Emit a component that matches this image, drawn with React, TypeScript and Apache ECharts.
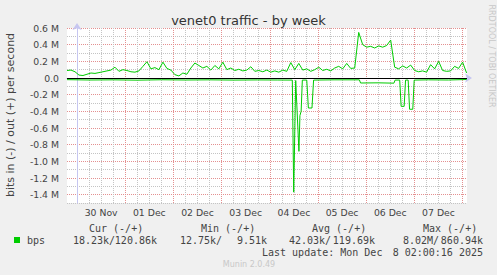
import React, { useEffect, useRef } from "react";
import * as echarts from "echarts";

// ---- data ----
const dayLabels = ["30 Nov", "01 Dec", "02 Dec", "03 Dec", "04 Dec", "05 Dec", "06 Dec", "07 Dec"];
// hours relative to 30 Nov 00:00
const X_MIN = -5;
const X_MAX = 194.2;
const outStart = -5;
const outEnd = 194;
// out (+) bits per second, in k
const outValuesK = [
  90, 95, 75, 35, 30, 45, 60, 55, 65, 75,
  85, 95, 130, 80, 100, 90, 75, 70, 85, 140,
  195, 110, 125, 100, 190, 115, 95, 40, 25, 60,
  45, 120, 180, 150, 120, 140, 95, 150, 110, 190,
  100, 120, 90, 105, 85, 95, 135, 80, 90, 75,
  95, 70, 85, 70, 95, 80, 185, 100, 175, 95,
  110, 80, 100, 130, 90, 105, 85, 120, 140, 110,
  175, 115, 120, 547, 400, 370, 380, 360, 385, 370,
  390, 455, 130, 110, 145, 120, 155, 90, 75, 85,
  70, 160, 110, 200, 90, 80, 85, 140, 115, 190,
  60,
];
// in (-) bits per second: times (h) and values in k
const inTimes = [
  -5, 6, 18, 30, 42, 54, 66, 78, 90, 100,
  107.2, 107.9, 108.9, 110.5, 111.0, 111.6, 112.2,
  114.4, 115.2, 117.0, 117.8,
  128, 140.6, 141.2, 150, 157.8, 158.4,
  160.7, 161.4, 162.9, 163.6,
  164.9, 165.6, 167.2, 167.9,
  175, 185, 194,
];
const inValuesK = [
  20, 24, 22, 26, 21, 24, 22, 25, 23, 24,
  25, 1370, 30, 880, 450, 400, 25,
  25, 360, 360, 25,
  22, 22, 60, 58, 62, 25,
  25, 340, 340, 25,
  25, 375, 375, 25,
  22, 24, 18,
];

const legendHeaders = ["Cur (-/+)", "Min (-/+)", "Avg (-/+)", "Max (-/+)"];
const legendIn = ["18.23k/", "12.75k/", "42.03k/", "8.02M/"];
const legendOut = ["120.86k", "9.51k", "119.69k", "860.94k"];

const GREEN = "#00cc00";
const RED_GRID = "#e49090";
const GRAY_GRID = "#c4c4c4";
const AXIS = "#c6c6f0";
const SANS = "DejaVu Sans";
const MONO = "DejaVu Sans Mono";

export default function App() {
  const ref = useRef<HTMLDivElement>(null);
  useEffect(() => {
    const chart = echarts.init(ref.current!, null, { renderer: "svg" });

    const n = outValuesK.length;
    const outData = outValuesK.map((v, i) => [outStart + (i * (outEnd - outStart)) / (n - 1), v * 1000]);
    const inData = inTimes.map((t, i) => [t, -inValuesK[i] * 1000]);

    const xColors = Array.from({ length: 24 }, (_, i) => {
      const h = X_MIN + i;
      const m = ((h % 24) + 24) % 24;
      if (m === 0) return RED_GRID;
      if (m % 6 === 0) return GRAY_GRID;
      return "rgba(0,0,0,0)";
    });

    const legendX = [89, 201, 312, 423];
    const inX = [73, 180, 289, 403];
    const outRight = [157, 267, 375, 483];

    const graphics: any[] = [
      {
        type: "text",
        x: 248.5,
        y: 20,
        style: { text: "venet0 traffic - by week", fontFamily: SANS, fontSize: 13, fill: "#333", textAlign: "center", textVerticalAlign: "middle" },
      },
      {
        type: "text",
        x: 10.5,
        y: 115,
        rotation: Math.PI / 2,
        style: { text: "bits in (-) / out (+) per second", fontFamily: SANS, fontSize: 11, fill: "#444", textAlign: "center", textVerticalAlign: "middle" },
      },
      {
        type: "text",
        x: 491,
        y: 56,
        rotation: -Math.PI / 2,
        style: { text: "RRDTOOL / TOBI OETIKER", fontFamily: SANS, fontSize: 8, fill: "#c8c8c8", textAlign: "center", textVerticalAlign: "middle" },
      },
      { type: "rect", shape: { x: 14, y: 237, width: 6, height: 6 }, style: { fill: GREEN } },
      {
        type: "text",
        x: 27,
        y: 240,
        style: { text: "bps", fontFamily: MONO, fontSize: 10, fill: "#444", textVerticalAlign: "middle" },
      },
      {
        type: "text",
        x: 262,
        y: 252,
        style: { text: "Last update: Mon Dec", fontFamily: MONO, fontSize: 10, fill: "#444", textVerticalAlign: "middle" },
      },
      {
        type: "text",
        x: 483,
        y: 252,
        style: { text: "8 02:00:16 2025", fontFamily: MONO, fontSize: 10, fill: "#444", textAlign: "right", textVerticalAlign: "middle" },
      },
      {
        type: "text",
        x: 249,
        y: 264,
        style: { text: "Munin 2.0.49", fontFamily: SANS, fontSize: 8, fill: "#c8c8c8", textAlign: "center", textVerticalAlign: "middle" },
      },
    ];
    legendHeaders.forEach((h, i) => {
      graphics.push({
        type: "text",
        x: legendX[i],
        y: 228,
        style: { text: h, fontFamily: MONO, fontSize: 10, fill: "#444", textVerticalAlign: "middle" },
      });
      graphics.push({
        type: "text",
        x: inX[i],
        y: 240,
        style: { text: legendIn[i], fontFamily: MONO, fontSize: 10, fill: "#444", textVerticalAlign: "middle" },
      });
      graphics.push({
        type: "text",
        x: outRight[i],
        y: 240,
        style: { text: legendOut[i], fontFamily: MONO, fontSize: 10, fill: "#444", textAlign: "right", textVerticalAlign: "middle" },
      });
    });

    const option: any = {
      animation: false,
      backgroundColor: "#f0f0f0",
      grid: { left: 67, top: 28, width: 400, height: 175, show: true, backgroundColor: "#ffffff", borderWidth: 0 },
      xAxis: {
        type: "value",
        min: X_MIN,
        max: X_MAX,
        interval: 1,
        axisLine: {
          show: true,
          lineStyle: { color: AXIS, width: 1 },
          symbol: ["none", "arrow"],
          symbolSize: [7, 7],
          symbolOffset: [0, 5],
        },
        axisTick: { show: false },
        axisLabel: {
          show: true,
          interval: 0,
          margin: 5,
          fontFamily: SANS,
          fontSize: 9.3,
          color: "#444",
          showMinLabel: true,
          showMaxLabel: false,
          formatter: (v: number) => {
            const m = ((v % 24) + 24) % 24;
            if (Math.abs(m - 12) < 1e-6) {
              const idx = Math.round((v - 12) / 24);
              return dayLabels[idx] ?? "";
            }
            return "";
          },
        },
        splitLine: {
          show: true,
          showMinLine: true,
          showMaxLine: true,
          lineStyle: { color: xColors, type: [1, 1], width: 1 },
        },
      },
      yAxis: {
        type: "value",
        min: -1500000,
        max: 600000,
        interval: 100000,
        axisLine: {
          show: true,
          lineStyle: { color: AXIS, width: 1 },
          symbol: ["none", "arrow"],
          symbolSize: [7, 7],
          symbolOffset: [0, 5],
        },
        axisTick: { show: false },
        axisLabel: {
          margin: 8,
          fontFamily: SANS,
          fontSize: 9.3,
          color: "#444",
          formatter: (v: number) => {
            const k = Math.round(v / 100000);
            if (k === 0) return "0.0";
            if (k % 2 !== 0) return "";
            return (v / 1e6).toFixed(1) + " M";
          },
        },
        splitLine: {
          show: true,
          showMinLine: true,
          showMaxLine: true,
          lineStyle: { color: [GRAY_GRID, RED_GRID], type: [1, 1], width: 1 },
        },
      },
      series: [
        {
          type: "line",
          name: "out",
          data: outData,
          showSymbol: false,
          symbol: "none",
          lineStyle: { color: GREEN, width: 1 },
          z: 3,
          markLine: {
            silent: true,
            symbol: "none",
            label: { show: false },
            lineStyle: { color: "#000000", width: 1, type: "solid" },
            data: [{ yAxis: 0 }],
            z: 5,
          },
        },
        {
          type: "line",
          name: "in",
          data: inData,
          showSymbol: false,
          symbol: "none",
          lineStyle: { color: GREEN, width: 1 },
          z: 3,
        },
      ],
      graphic: graphics,
    };
    chart.setOption(option);
    return () => chart.dispose();
  }, []);
  return <div ref={ref} style={{ position: "fixed", left: 0, top: 0, width: 497, height: 275 }} />;
}
